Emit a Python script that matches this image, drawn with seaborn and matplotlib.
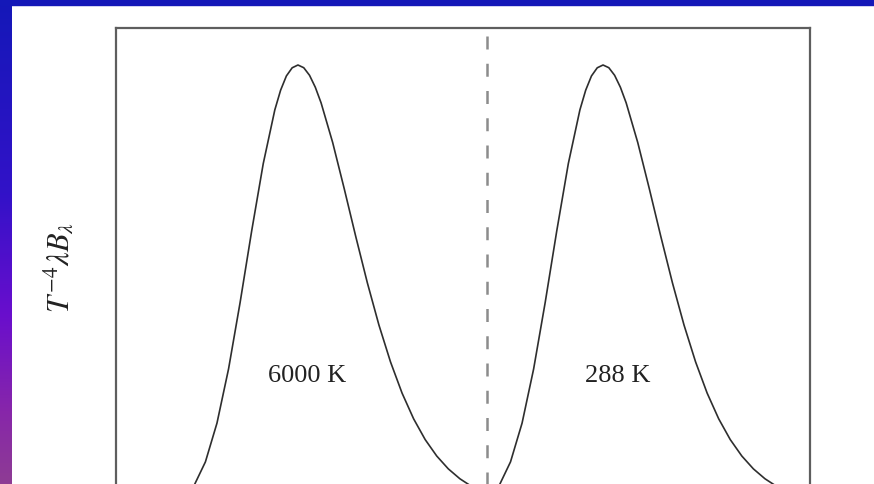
import numpy as np
import pandas as pd
import matplotlib
matplotlib.use("Agg")
import matplotlib.pyplot as plt
from matplotlib.patches import Rectangle
import seaborn as sns

# ---- data ----
# normalised T^-4 * lambda * B_lambda, peak = 1
curve_values = [0.0204, 0.0496, 0.1041, 0.1916, 0.3140, 0.4641, 0.6257, 0.7776,
                0.8987, 0.9431, 0.9753, 0.9937, 1.0000, 0.9939, 0.9768, 0.9498,
                0.9145, 0.8251, 0.7208, 0.6125, 0.5083, 0.4131, 0.3299, 0.2594,
                0.2013, 0.1544, 0.1173, 0.0883, 0.0660, 0.0490, 0.0362, 0.0266]
# wavelength (micrometres) for the 6000 K curve
wl_6000 = [0.1934, 0.2170, 0.2435, 0.2732, 0.3066, 0.3440, 0.3860, 0.4331,
           0.4859, 0.5147, 0.5452, 0.5775, 0.6117, 0.6479, 0.6863, 0.7270,
           0.7701, 0.8641, 0.9695, 1.0878, 1.2205, 1.3694, 1.5365, 1.7240,
           1.9344, 2.1704, 2.4352, 2.7324, 3.0658, 3.4398, 3.8596, 4.3305]
# wavelength (micrometres) for the 288 K curve
wl_288 = [4.030, 4.522, 5.074, 5.693, 6.388, 7.167, 8.042, 9.023,
          10.124, 10.724, 11.359, 12.032, 12.745, 13.500, 14.300, 15.148,
          16.045, 18.003, 20.200, 22.664, 25.430, 28.533, 32.014, 35.920,
          40.303, 45.221, 50.739, 56.930, 63.876, 71.670, 80.415, 90.226]
labels = ["6000 K", "288 K"]
label_x = [0.671, 14.76]
label_y = [0.30, 0.30]
divider_wl = 4.0

sns.set_theme(style="white")
plt.rcParams["mathtext.fontset"] = "stix"

W, H = 874, 485
fig = plt.figure(figsize=(W / 100, H / 100), dpi=100, facecolor="white")

# left gradient strip
gax = fig.add_axes([0, 0, 12 / W, 1])
stops = np.array([[0.0, 20, 24, 184],
                  [0.40, 50, 18, 200],
                  [0.65, 105, 14, 205],
                  [0.85, 135, 38, 170],
                  [1.0, 142, 60, 148]])
t = np.linspace(0, 1, 300)
grad = np.stack([np.interp(t, stops[:, 0], stops[:, i]) for i in (1, 2, 3)], axis=1) / 255
gax.imshow(grad[:, None, :], aspect="auto", extent=[0, 1, 1, 0])
gax.axis("off")
fig.add_artist(Rectangle((0, 1 - 6 / H), 1, 6 / H, transform=fig.transFigure,
                         color="#1418b8", zorder=5))

# main axes (bottom extends below the image)
bottom_px = 509
top_px = 29
scale_px = 443
ax = fig.add_axes([116 / W, 1 - bottom_px / H, 694 / W, (bottom_px - top_px) / H])
ax.set_facecolor("white")

df = pd.DataFrame({
    "wavelength": wl_6000 + wl_288,
    "value": curve_values + curve_values,
    "T": [labels[0]] * len(wl_6000) + [labels[1]] * len(wl_288),
})
sns.lineplot(data=df, x="wavelength", y="value", units="T", estimator=None,
             sort=False, color="#2e2e2e", linewidth=1.2, ax=ax, legend=False)
ax.axvline(divider_wl, color="#8c8c8c", linewidth=1.8, dashes=(5.2, 5.7))

for lab, lx, ly in zip(labels, label_x, label_y):
    ax.text(lx, ly, lab, ha="center", va="center", fontsize=19,
            family="Liberation Serif", color="#222222")

ax.set_xscale("log")
ax.set_xlim(0.1, 100)
ax.set_ylim(0, (bottom_px - top_px) / scale_px)
ax.set_xticks([])
ax.set_yticks([])
ax.minorticks_off()
ax.set_xlabel("")
ax.set_ylabel("")
for s in ax.spines.values():
    s.set_color("#5e5e5e")
    s.set_linewidth(1.6)

fig.text(58 / W, 1 - 268 / H, r"$T^{-4}\lambda B_\lambda$", rotation=90,
         ha="center", va="center", fontsize=22, color="#222222")

fig.savefig("out.png", dpi=100, facecolor="white")
